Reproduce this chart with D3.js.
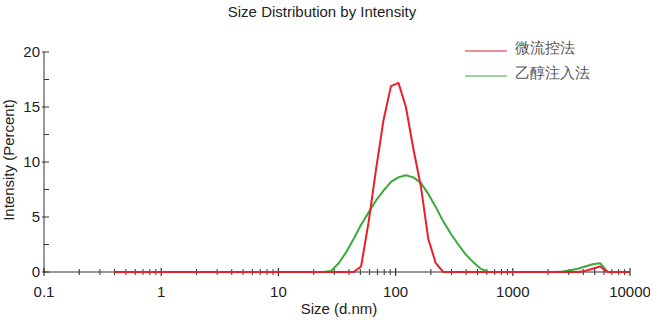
<!DOCTYPE html>
<html>
<head>
<meta charset="utf-8">
<script src="https://cdn.jsdelivr.net/npm/d3@7"></script>
<style>
  html, body { margin: 0; padding: 0; background: #fff; }
  svg { display: block; }
  text { font-family: "Liberation Sans", Arial, sans-serif; }
</style>
</head>
<body>
<svg id="chart" width="650" height="322"></svg>
<script>
// Size classes (d.nm)
const sizes = [0.4, 0.4632, 0.5365, 0.6213, 0.7195, 0.8332, 0.9649, 1.117, 1.294, 1.499,
  1.736, 2.010, 2.328, 2.696, 3.122, 3.615, 4.187, 4.849, 5.615, 6.503,
  7.531, 8.721, 10.10, 11.70, 13.54, 15.69, 18.17, 21.04, 24.36, 28.21,
  32.67, 37.84, 43.82, 50.75, 58.77, 68.06, 78.82, 91.28, 105.7, 122.4,
  141.8, 164.2, 190.1, 220.2, 255.0, 295.3, 342.0, 396.1, 458.7, 531.2,
  615.1, 712.4, 825.0, 955.4, 1106, 1281, 1484, 1718, 1990, 2305,
  2669, 3091, 3580, 4145, 4801, 5560, 6439, 7456, 8635, 10000];

// Intensity (%) per size class
const microfluidic = [0, 0, 0, 0, 0, 0, 0, 0, 0, 0,
  0, 0, 0, 0, 0, 0, 0, 0, 0, 0,
  0, 0, 0, 0, 0, 0, 0, 0, 0, 0,
  0, 0, 0, 0.5, 4.5, 9.3, 13.8, 16.9, 17.2, 15.0,
  11.2, 7.8, 3.0, 0.8, 0, 0, 0, 0, 0, 0,
  0, 0, 0, 0, 0, 0, 0, 0, 0, 0,
  0, 0, 0, 0.1, 0.3, 0.5, 0, 0, 0, 0];

const ethanolInjection = [0, 0, 0, 0, 0, 0, 0, 0, 0, 0,
  0, 0, 0, 0, 0, 0, 0, 0, 0, 0,
  0, 0, 0, 0, 0, 0, 0, 0, 0, 0.1,
  0.8, 1.8, 3.0, 4.3, 5.4, 6.5, 7.4, 8.2, 8.6, 8.8,
  8.6, 8.1, 7.1, 5.9, 4.6, 3.5, 2.5, 1.6, 0.9, 0.3,
  0, 0, 0, 0, 0, 0, 0, 0, 0, 0,
  0.05, 0.15, 0.3, 0.5, 0.7, 0.8, 0, 0, 0, 0];

const seriesNames = ["微流控法", "乙醇注入法"];
const seriesColors = ["#e8202a", "#3aaa3a"];

const xTicks = [0.1, 1, 10, 100, 1000, 10000];
const xTickLabels = ["0.1", "1", "10", "100", "1000", "10000"];
const yTicks = [0, 5, 10, 15, 20];
const yMinorTicks = [2.5, 7.5, 12.5, 17.5];

const svg = d3.select("#chart");
const x = d3.scaleLog().domain([0.1, 10000]).range([44, 630]);
const y = d3.scaleLinear().domain([0, 20]).range([272, 52]);

const axisColor = "#333";

// minor log ticks 2..9 in each decade
const xMinor = [];
for (let d = 0.1; d < 10000; d *= 10) {
  for (let k = 2; k <= 9; k++) xMinor.push(+(d * k).toPrecision(3));
}

// x axis
const gx = svg.append("g").attr("transform", `translate(0,${y(0)})`);
gx.append("line").attr("x1", x(0.1)).attr("x2", x(10000)).attr("stroke", axisColor).attr("stroke-width", 1);
gx.selectAll(".minor").data(xMinor).join("line")
  .attr("x1", d => x(d)).attr("x2", d => x(d))
  .attr("y1", -3).attr("y2", 3)
  .attr("stroke", axisColor).attr("stroke-width", 1);
gx.selectAll(".major").data(xTicks).join("line")
  .attr("x1", d => x(d)).attr("x2", d => x(d))
  .attr("y1", -4).attr("y2", 4)
  .attr("stroke", axisColor).attr("stroke-width", 1.2);
gx.selectAll(".lbl").data(xTicks).join("text")
  .attr("x", d => x(d)).attr("y", 25)
  .attr("text-anchor", "middle")
  .attr("font-size", 15).attr("fill", "#222")
  .text((d, i) => xTickLabels[i]);

// y axis
const gy = svg.append("g").attr("transform", `translate(${x(0.1)},0)`);
gy.append("line").attr("y1", y(0)).attr("y2", y(20)).attr("stroke", axisColor).attr("stroke-width", 1);
gy.selectAll(".minor").data(yMinorTicks).join("line")
  .attr("y1", d => y(d)).attr("y2", d => y(d))
  .attr("x1", 0).attr("x2", 5)
  .attr("stroke", axisColor).attr("stroke-width", 1);
gy.selectAll(".major").data(yTicks).join("line")
  .attr("y1", d => y(d)).attr("y2", d => y(d))
  .attr("x1", -2).attr("x2", 5)
  .attr("stroke", axisColor).attr("stroke-width", 1);
gy.selectAll(".lbl").data(yTicks).join("text")
  .attr("x", -4).attr("y", d => y(d))
  .attr("dy", "0.36em")
  .attr("text-anchor", "end")
  .attr("font-size", 15).attr("fill", "#222")
  .text(d => d);

// data lines (ethanol injection underneath, microfluidic on top)
const line = d3.line().x(d => x(d[0])).y(d => y(d[1]));
const dataSets = [microfluidic, ethanolInjection];
[1, 0].forEach(i => {
  svg.append("path")
    .datum(sizes.map((s, j) => [s, dataSets[i][j]]))
    .attr("fill", "none")
    .attr("stroke", seriesColors[i])
    .attr("stroke-width", 2)
    .attr("stroke-linejoin", "round")
    .attr("d", line);
});

// title and axis titles
svg.append("text").attr("x", 322).attr("y", 17)
  .attr("text-anchor", "middle").attr("font-size", 15).attr("fill", "#222")
  .text("Size Distribution by Intensity");
svg.append("text").attr("x", 339).attr("y", 314)
  .attr("text-anchor", "middle").attr("font-size", 15).attr("fill", "#222")
  .text("Size (d.nm)");
svg.append("text")
  .attr("transform", "translate(14,160) rotate(-90)")
  .attr("text-anchor", "middle").attr("font-size", 15).attr("fill", "#222")
  .text("Intensity (Percent)");

// legend
const legend = svg.append("g");
seriesNames.forEach((name, i) => {
  const ly = 51 + i * 25;
  legend.append("line")
    .attr("x1", 465).attr("x2", 507).attr("y1", ly).attr("y2", ly)
    .attr("stroke", seriesColors[i]).attr("stroke-width", 1.2);
  legend.append("text")
    .attr("x", 515).attr("y", ly - 3).attr("dy", "0.36em")
    .attr("font-family", "'Noto Sans CJK SC', sans-serif")
    .attr("font-weight", 300)
    .attr("font-size", 15).attr("fill", "#555")
    .text(name);
});
</script>
</body>
</html>
